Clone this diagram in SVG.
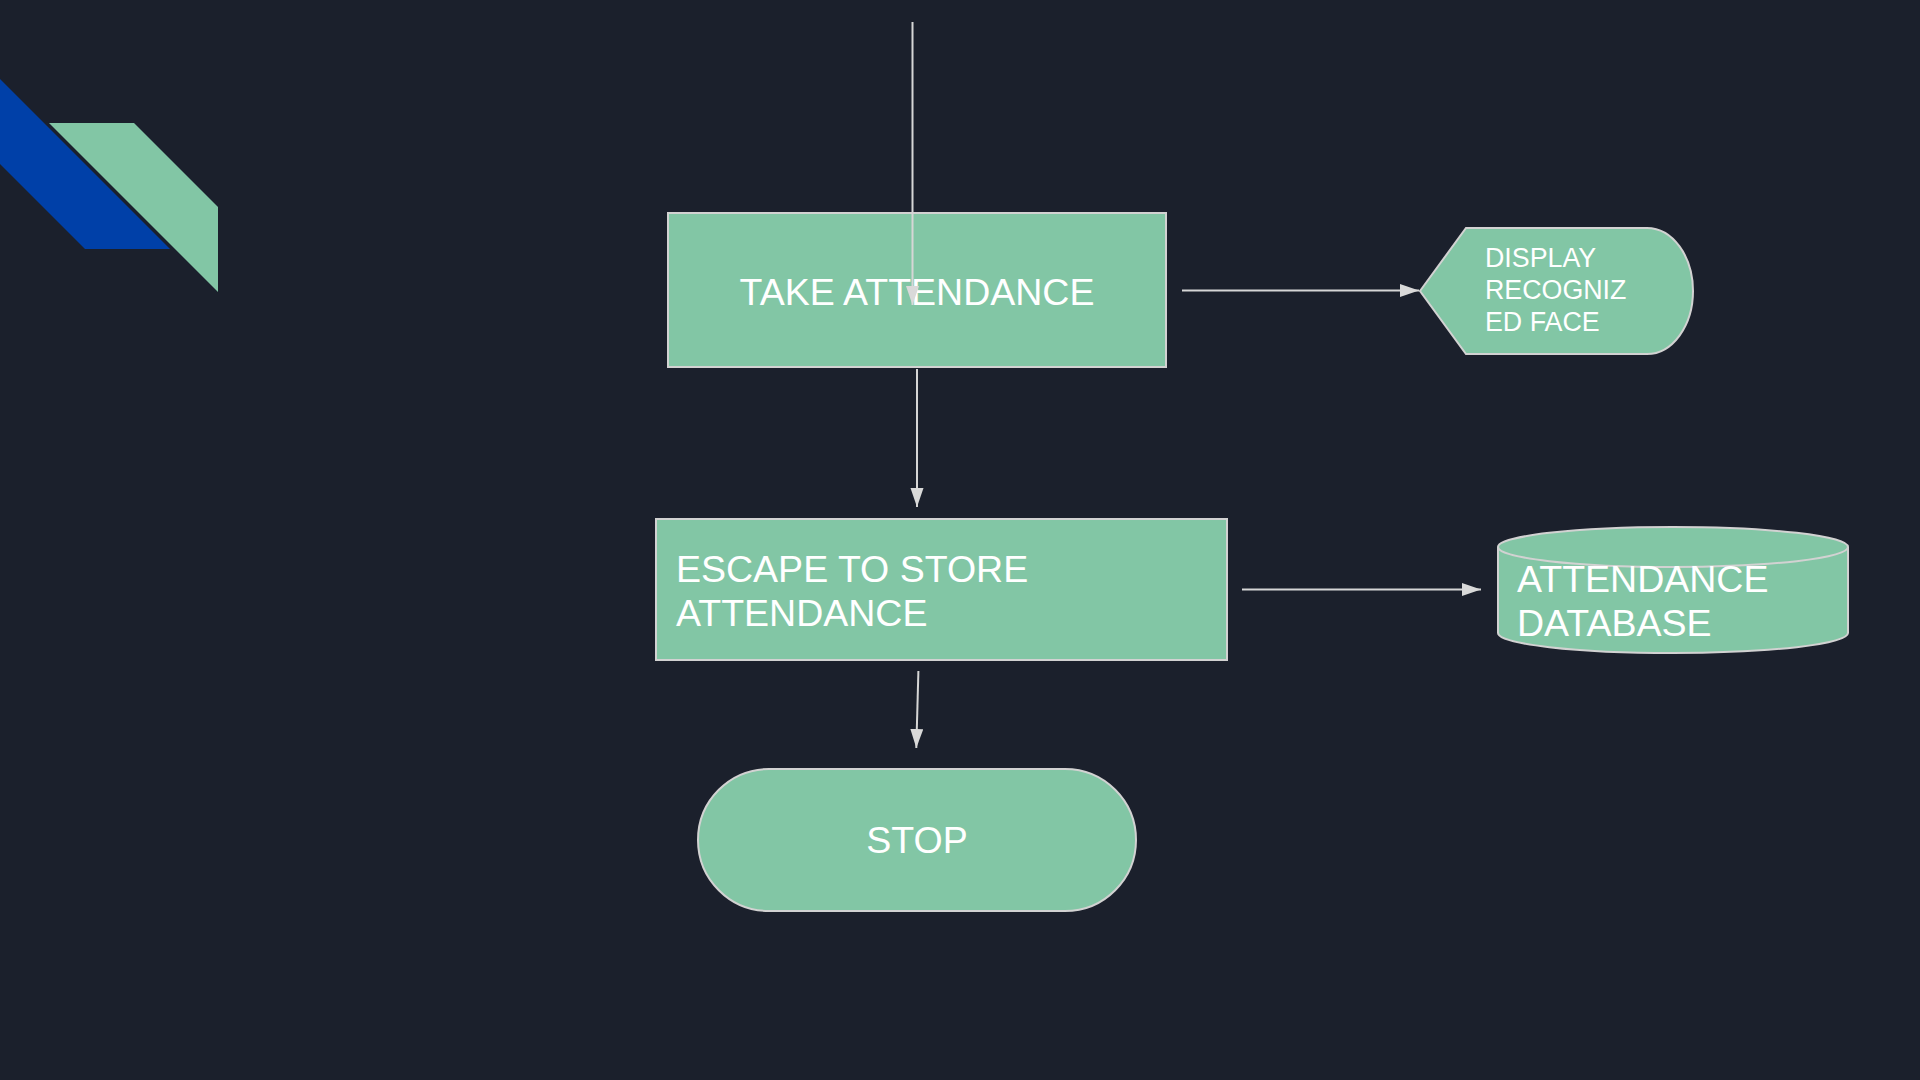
<svg xmlns="http://www.w3.org/2000/svg" width="1920" height="1080" viewBox="0 0 1920 1080">
<defs>
<style>
.node{fill:#82c6a5;stroke:#d2d2d2;stroke-width:2}
.lbl{fill:#ffffff;font-family:"Liberation Sans",Arial,sans-serif;font-size:37.5px}
.sm{font-size:26.8px}
.conn{stroke:#d6d6d6;stroke-width:2;fill:none;marker-end:url(#ah)}
</style>
<marker id="ah" markerUnits="userSpaceOnUse" markerWidth="20" markerHeight="14" refX="19" refY="6.5" orient="auto">
<path d="M0,0 L19,6.5 L0,13 Z" fill="#d9d9d9"/>
</marker>
</defs>
<rect x="0" y="0" width="1920" height="1080" fill="#1b202c"/>
<g id="decoration">
<polygon points="0,79 170,249 85,249 0,164" fill="#0040a8"/>
<polygon points="49,123 134,123 218,207 218,292" fill="#82c6a5"/>
</g>
<g id="take-attendance">
<rect class="node" x="668" y="213" width="498" height="154"/>
<text class="lbl" x="917" y="305" text-anchor="middle">TAKE ATTENDANCE</text>
</g>
<g id="display-face">
<path class="node" d="M1420,291 L1466,228 L1647,228 A46,63 0 0 1 1647,354 L1466,354 Z"/>
<text class="lbl sm" x="1485" y="267">DISPLAY</text>
<text class="lbl sm" x="1485" y="299">RECOGNIZ</text>
<text class="lbl sm" x="1485" y="331">ED FACE</text>
</g>
<g id="escape-store">
<rect class="node" x="656" y="519" width="571" height="141"/>
<text class="lbl" x="676" y="582">ESCAPE TO STORE</text>
<text class="lbl" x="676" y="626">ATTENDANCE</text>
</g>
<g id="attendance-db">
<path class="node" d="M1498,547 A175,20 0 0 1 1848,547 L1848,633 A175,20 0 0 1 1498,633 Z"/>
<path d="M1498,547 A175,20 0 0 0 1848,547" fill="none" stroke="#d2d2d2" stroke-width="2"/>
<text class="lbl" x="1517" y="592">ATTENDANCE</text>
<text class="lbl" x="1517" y="636">DATABASE</text>
</g>
<g id="stop">
<rect class="node" x="698" y="769" width="438" height="142" rx="71" ry="71"/>
<text class="lbl" x="917" y="853" text-anchor="middle">STOP</text>
</g>
<g id="connectors">
<line class="conn" x1="912.5" y1="22" x2="912.5" y2="305"/>
<line class="conn" x1="1182" y1="290.5" x2="1419" y2="290.5"/>
<line class="conn" x1="917" y1="369" x2="917" y2="507"/>
<line class="conn" x1="1242" y1="589.5" x2="1481" y2="589.5"/>
<line class="conn" x1="918.4" y1="671" x2="916.3" y2="748"/>
</g>
</svg>
